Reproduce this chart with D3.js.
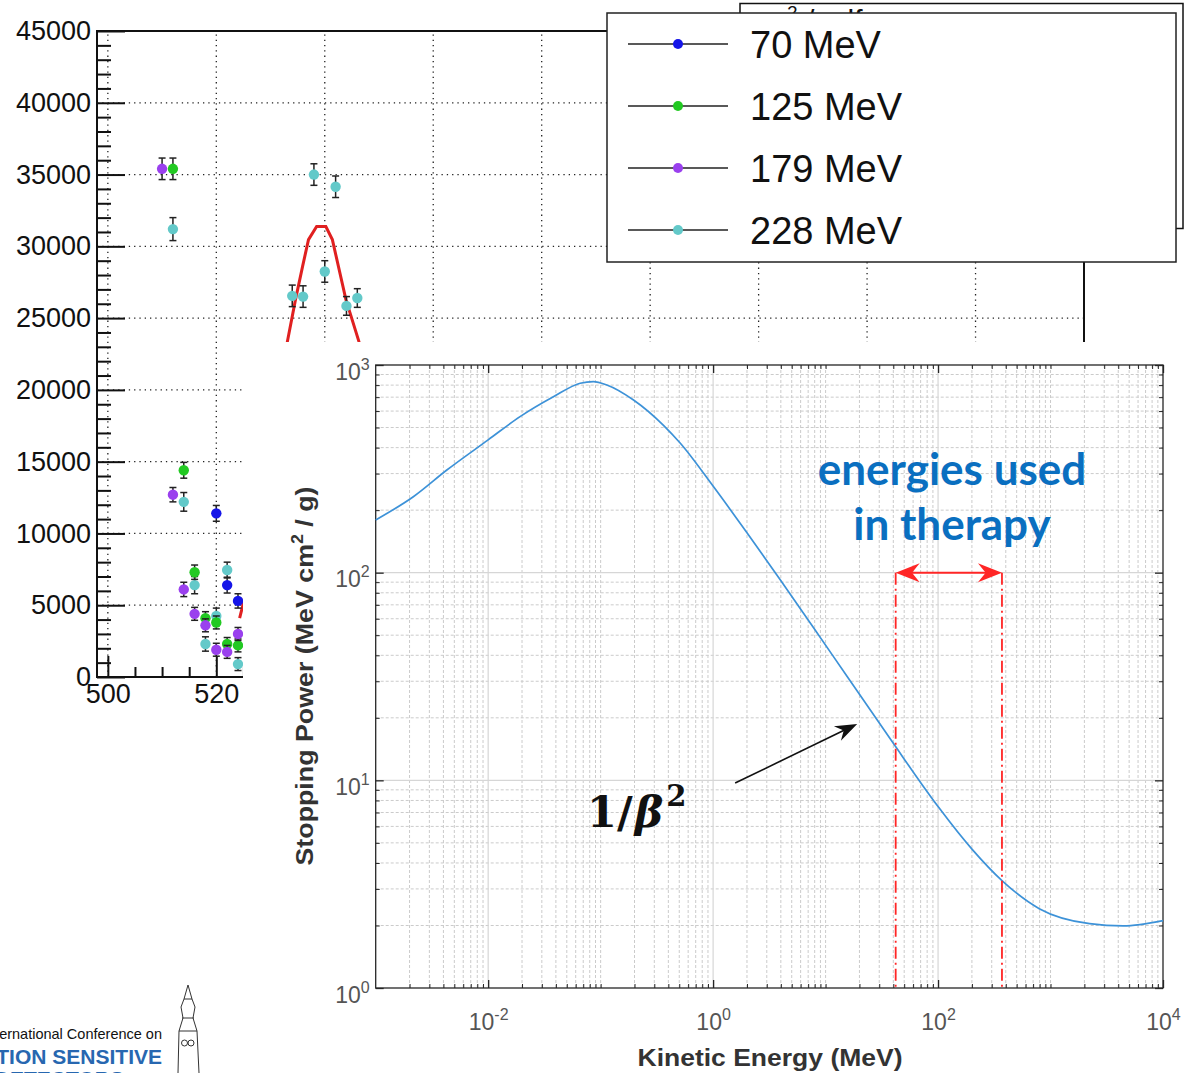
<!DOCTYPE html>
<html>
<head>
<meta charset="utf-8">
<title>stopping power</title>
<script src="https://cdn.jsdelivr.net/npm/d3@7/dist/d3.min.js"></script>
<style>
  body { margin: 0; background: #fff; }
  svg { display: block; }
</style>
</head>
<body>
<svg id="chart" width="1186" height="1073"></svg>
<script>
// ---------- upper plot data: counts per position, one series per beam energy
const beamLabels = ["70 MeV", "125 MeV", "179 MeV", "228 MeV"];
const beamColors = ["#1515e8", "#22c922", "#9a40ee", "#63c9c9"];

const pos70  = [520, 522, 524];
const cnt70  = [11400, 6400, 5300];
const err70  = [550, 550, 500];

const pos125 = [512, 514, 516, 518, 520, 522, 524];
const cnt125 = [35400, 14400, 7300, 4100, 3800, 2300, 2200];
const err125 = [750, 550, 500, 450, 450, 450, 450];

const pos179 = [510, 512, 514, 516, 518, 520, 522, 524];
const cnt179 = [35400, 12700, 6100, 4400, 3600, 1900, 1750, 3000];
const err179 = [750, 500, 500, 450, 450, 450, 450, 450];

const pos228 = [512, 514, 516, 518, 520, 522, 524, 534, 536, 538, 540, 542, 544, 546];
const cnt228 = [31200, 12200, 6400, 2300, 4250, 7450, 900, 26550, 26500, 35000, 28250, 34150, 25850, 26400];
const err228 = [800, 650, 600, 500, 550, 550, 450, 750, 750, 750, 750, 750, 650, 650];

// red fit lines
const fitX = [531, 533.1, 534.6, 535.9, 537.0, 538.5, 540.2, 541.4, 543.9, 546.3, 548.5];
const fitY = [18500, 23360, 26290, 28590, 30470, 31380, 31380, 30470, 26290, 23360, 18500];
const fit70X = [524.3, 524.9, 526.0];
const fit70Y = [4100, 5000, 7000];

const countTicks = [0, 5000, 10000, 15000, 20000, 25000, 30000, 35000, 40000, 45000];
const posTicks = [500, 520, 540, 560, 580, 600, 620, 640, 660, 680];

// ---------- lower plot data: proton stopping power vs kinetic energy
const kineticE  = [0.001, 0.00216, 0.00429, 0.01, 0.0192, 0.038, 0.0658, 0.0863, 0.1135, 0.196, 0.362, 0.509,
                   1.01, 2.0, 3.95, 7.82, 15.5, 41.3, 71.4, 102.8, 201, 372, 794, 2223, 4426, 10000];
const stoppingP = [179.5, 232, 312, 436, 564, 703, 817, 832, 801, 678, 512, 421,
                   259, 155.6, 92.5, 54.3, 31.7, 14.7, 9.61, 7.33, 4.65, 3.28, 2.41, 2.04, 1.99, 2.11];
const therapyRange = [42, 370];
const keTicks = [1e-2, 1e0, 1e2, 1e4];
const keTickExp = ["-2", "0", "2", "4"];
const spTicks = [1e0, 1e1, 1e2, 1e3];
const spTickExp = ["0", "1", "2", "3"];

const svg = d3.select("#chart");
const sans = "'Liberation Sans', Arial, Helvetica, sans-serif";

// ================= upper plot =================
const ux = d3.scaleLinear().domain([498, 680]).range([97, 1084]);
const uy = d3.scaleLinear().domain([0, 45000]).range([677, 31]);
const up = svg.append("g");

// dotted grid
up.append("g").selectAll("line").data(posTicks.slice(0, -1)).join("line")
  .attr("x1", d => ux(d)).attr("x2", d => ux(d))
  .attr("y1", uy(0)).attr("y2", uy(45000))
  .attr("stroke", "#222").attr("stroke-width", 1.3).attr("stroke-dasharray", "1.3,4");
up.append("g").selectAll("line").data(countTicks.slice(1, -1)).join("line")
  .attr("x1", ux(498)).attr("x2", ux(680))
  .attr("y1", d => uy(d)).attr("y2", d => uy(d))
  .attr("stroke", "#222").attr("stroke-width", 1.3).attr("stroke-dasharray", "1.3,4");

// frame
up.append("rect").attr("x", ux(498)).attr("y", uy(45000))
  .attr("width", ux(680) - ux(498)).attr("height", uy(0) - uy(45000))
  .attr("fill", "none").attr("stroke", "#111").attr("stroke-width", 2);

// ticks pointing inwards
const countMinor = d3.range(0, 45001, 1000).filter(v => v % 5000 !== 0);
const posMinor = d3.range(500, 681, 5).filter(v => v % 20 !== 0);
function styleTicks(g, w) {
  g.select(".domain").remove();
  g.selectAll(".tick line").attr("stroke", "#111").attr("stroke-width", w);
}
up.append("g").attr("transform", `translate(${ux(498)},0)`)
  .call(d3.axisRight(uy).tickValues(countTicks).tickSize(28).tickSizeOuter(0).tickFormat(""))
  .call(g => styleTicks(g, 2));
up.append("g").attr("transform", `translate(${ux(498)},0)`)
  .call(d3.axisRight(uy).tickValues(countMinor).tickSize(14).tickSizeOuter(0).tickFormat(""))
  .call(g => styleTicks(g, 2));
up.append("g").attr("transform", `translate(0,${uy(0)})`)
  .call(d3.axisTop(ux).tickValues(posTicks).tickSize(21).tickSizeOuter(0).tickFormat(""))
  .call(g => styleTicks(g, 2));
up.append("g").attr("transform", `translate(0,${uy(0)})`)
  .call(d3.axisTop(ux).tickValues(posMinor).tickSize(10).tickSizeOuter(0).tickFormat(""))
  .call(g => styleTicks(g, 2));

// tick labels
up.append("g").attr("transform", `translate(${ux(498)},0)`)
  .call(d3.axisLeft(uy).tickValues(countTicks).tickSize(0).tickPadding(6).tickFormat(d3.format("d")))
  .call(g => g.select(".domain").remove())
  .call(g => g.selectAll("text").attr("font-family", sans).attr("font-size", 27).attr("fill", "#111"));
up.append("g").attr("transform", `translate(0,${uy(0)})`)
  .call(d3.axisBottom(ux).tickValues(posTicks).tickSize(0).tickPadding(7).tickFormat(d3.format("d")))
  .call(g => g.select(".domain").remove())
  .call(g => g.selectAll("text").attr("font-family", sans).attr("font-size", 27).attr("fill", "#111"));

// fits
const fitLine = d3.line().x(d => ux(d[0])).y(d => uy(d[1]));
up.append("path").datum(d3.zip(fitX, fitY)).attr("d", fitLine)
  .attr("fill", "none").attr("stroke", "#e02020").attr("stroke-width", 3);
up.append("path").datum(d3.zip(fit70X, fit70Y)).attr("d", fitLine)
  .attr("fill", "none").attr("stroke", "#e02020").attr("stroke-width", 3);

// measured points with error bars
const upperSeries = [
  { color: beamColors[3], x: pos228, y: cnt228, e: err228 },
  { color: beamColors[1], x: pos125, y: cnt125, e: err125 },
  { color: beamColors[2], x: pos179, y: cnt179, e: err179 },
  { color: beamColors[0], x: pos70,  y: cnt70,  e: err70 }
];
upperSeries.forEach(s => {
  const pts = s.x.map((x, i) => ({ x, y: s.y[i], e: s.e[i] }));
  const g = up.append("g");
  const eb = g.selectAll("g.eb").data(pts).join("g").attr("class", "eb")
    .attr("stroke", "#222").attr("stroke-width", 1.5);
  eb.append("line").attr("x1", d => ux(d.x)).attr("x2", d => ux(d.x))
    .attr("y1", d => uy(d.y - d.e)).attr("y2", d => uy(d.y + d.e));
  eb.append("line").attr("x1", d => ux(d.x) - 3.5).attr("x2", d => ux(d.x) + 3.5)
    .attr("y1", d => uy(d.y - d.e)).attr("y2", d => uy(d.y - d.e));
  eb.append("line").attr("x1", d => ux(d.x) - 3.5).attr("x2", d => ux(d.x) + 3.5)
    .attr("y1", d => uy(d.y + d.e)).attr("y2", d => uy(d.y + d.e));
  g.selectAll("circle").data(pts).join("circle")
    .attr("cx", d => ux(d.x)).attr("cy", d => uy(d.y)).attr("r", 5.2)
    .attr("fill", s.color);
});

// legend (second box peeking behind it)
const back = svg.append("g");
back.append("rect").attr("x", 740).attr("y", 3.5).attr("width", 443).attr("height", 225)
  .attr("fill", "#fff").attr("stroke", "#111").attr("stroke-width", 1.5);
back.append("text").attr("x", 762).attr("y", 31).attr("font-family", sans).attr("font-size", 30).attr("fill", "#111")
  .call(t => {
    t.append("tspan").text("m");
    t.append("tspan").attr("font-size", 19).attr("dy", -12).text("2");
    t.append("tspan").attr("dy", 12).text(" / g     lf");
  });

const legend = svg.append("g");
legend.append("rect").attr("x", 607).attr("y", 13).attr("width", 569).attr("height", 249)
  .attr("fill", "#fff").attr("stroke", "#222").attr("stroke-width", 1.5);
const legItems = legend.selectAll("g.item").data(beamLabels).join("g").attr("class", "item")
  .attr("transform", (d, i) => `translate(0,${44 + i * 62})`);
legItems.append("line").attr("x1", 628).attr("x2", 728).attr("stroke", "#222").attr("stroke-width", 1.5);
legItems.append("circle").attr("cx", 678).attr("r", 5).attr("fill", (d, i) => beamColors[i]);
legItems.append("text").attr("x", 750).attr("dy", "0.36em").attr("font-family", sans)
  .attr("font-size", 38).attr("fill", "#111").text(d => d);

// ================= lower plot (pasted on top) =================
svg.append("rect").attr("x", 243).attr("y", 342).attr("width", 943).attr("height", 731).attr("fill", "#fff");

const lx = d3.scaleLog().domain([1e-3, 1e4]).range([375.7, 1163]);
const ly = d3.scaleLog().domain([1, 1000]).range([988, 365]);
const low = svg.append("g");

const xMinor = [];
for (let k = -3; k <= 3; k++) for (let m = 1; m <= 9; m++) {
  const v = m * Math.pow(10, k);
  if (v > 1e-3 && !keTicks.some(t => Math.abs(t - v) / t < 1e-9)) xMinor.push(v);
}
const yMinor = [];
for (let k = 0; k <= 2; k++) for (let m = 2; m <= 9; m++) yMinor.push(m * Math.pow(10, k));

// grid
low.append("g").selectAll("line").data(xMinor).join("line")
  .attr("x1", d => lx(d)).attr("x2", d => lx(d)).attr("y1", ly(1)).attr("y2", ly(1000))
  .attr("stroke", "#cbcbcb").attr("stroke-width", 1).attr("stroke-dasharray", "3,2");
low.append("g").selectAll("line").data(yMinor).join("line")
  .attr("x1", lx(1e-3)).attr("x2", lx(1e4)).attr("y1", d => ly(d)).attr("y2", d => ly(d))
  .attr("stroke", "#cbcbcb").attr("stroke-width", 1).attr("stroke-dasharray", "3,2");
low.append("g").selectAll("line").data(keTicks.slice(0, -1)).join("line")
  .attr("x1", d => lx(d)).attr("x2", d => lx(d)).attr("y1", ly(1)).attr("y2", ly(1000))
  .attr("stroke", "#d6d6d6").attr("stroke-width", 1.2);
low.append("g").selectAll("line").data(spTicks.slice(1, -1)).join("line")
  .attr("x1", lx(1e-3)).attr("x2", lx(1e4)).attr("y1", d => ly(d)).attr("y2", d => ly(d))
  .attr("stroke", "#d6d6d6").attr("stroke-width", 1.2);

// ticks on all four sides
function lowTicks(g, w) {
  g.select(".domain").remove();
  g.selectAll(".tick line").attr("stroke", "#262626").attr("stroke-width", w);
}
[[d3.axisTop, ly(1)], [d3.axisBottom, ly(1000)]].forEach(([ax, yy]) => {
  low.append("g").attr("transform", `translate(0,${yy})`)
    .call(ax(lx).tickValues(keTicks).tickSize(8).tickSizeOuter(0).tickFormat("")).call(g => lowTicks(g, 1.3));
  low.append("g").attr("transform", `translate(0,${yy})`)
    .call(ax(lx).tickValues(xMinor).tickSize(4).tickSizeOuter(0).tickFormat("")).call(g => lowTicks(g, 1));
});
[[d3.axisRight, lx(1e-3)], [d3.axisLeft, lx(1e4)]].forEach(([ax, xx]) => {
  low.append("g").attr("transform", `translate(${xx},0)`)
    .call(ax(ly).tickValues(spTicks).tickSize(8).tickSizeOuter(0).tickFormat("")).call(g => lowTicks(g, 1.3));
  low.append("g").attr("transform", `translate(${xx},0)`)
    .call(ax(ly).tickValues(yMinor).tickSize(4).tickSizeOuter(0).tickFormat("")).call(g => lowTicks(g, 1));
});
low.append("rect").attr("x", lx(1e-3)).attr("y", ly(1000))
  .attr("width", lx(1e4) - lx(1e-3)).attr("height", ly(1) - ly(1000))
  .attr("fill", "none").attr("stroke", "#262626").attr("stroke-width", 1.3);

// power-of-ten labels
function powLabel(text, exp) {
  text.text(null).attr("dy", null).attr("font-family", sans).attr("fill", "#555");
  text.append("tspan").attr("font-size", 23).text("10");
  text.append("tspan").attr("font-size", 16).attr("dy", -10).text(exp);
}
low.append("g").attr("transform", `translate(0,${ly(1)})`)
  .call(d3.axisBottom(lx).tickValues(keTicks).tickSize(0).tickFormat(""))
  .call(g => g.select(".domain").remove())
  .call(g => g.selectAll("text").attr("y", 42).each(function (d, i) { powLabel(d3.select(this), keTickExp[i]); }));
low.append("g").attr("transform", `translate(${lx(1e-3)},0)`)
  .call(d3.axisLeft(ly).tickValues(spTicks).tickSize(0).tickPadding(6).tickFormat(""))
  .call(g => g.select(".domain").remove())
  .call(g => g.selectAll("text").attr("y", 14).each(function (d, i) { powLabel(d3.select(this), spTickExp[i]); }));

// axis titles
low.append("text").attr("x", 770).attr("y", 1066).attr("text-anchor", "middle")
  .attr("font-family", sans).attr("font-weight", "bold").attr("font-size", 24).attr("fill", "#333")
  .attr("textLength", 265).attr("lengthAdjust", "spacingAndGlyphs")
  .text("Kinetic Energy (MeV)");
low.append("text").attr("transform", "translate(313,676) rotate(-90)").attr("text-anchor", "middle")
  .attr("font-family", sans).attr("font-weight", "bold").attr("font-size", 24).attr("fill", "#333")
  .attr("textLength", 379).attr("lengthAdjust", "spacingAndGlyphs")
  .call(t => {
    t.append("tspan").text("Stopping Power (MeV cm");
    t.append("tspan").attr("font-size", 16).attr("dy", -10).text("2");
    t.append("tspan").attr("dy", 10).text(" / g)");
  });

// curve
const spLine = d3.line().x(d => lx(d[0])).y(d => ly(d[1])).curve(d3.curveMonotoneX);
low.append("path").datum(d3.zip(kineticE, stoppingP)).attr("d", spLine)
  .attr("fill", "none").attr("stroke", "#3d92d8").attr("stroke-width", 1.7);

// arrowheads
function arrowHead(g, x, y, angle, len, half, color) {
  g.append("path")
    .attr("d", `M0,0 L${-len},${-half} L${-len * 0.68},0 L${-len},${half} Z`)
    .attr("transform", `translate(${x},${y}) rotate(${angle})`)
    .attr("fill", color);
}

// therapy energy window
const red = "#ff2626";
therapyRange.forEach(e => {
  low.append("line").attr("x1", lx(e)).attr("x2", lx(e)).attr("y1", ly(100)).attr("y2", ly(1))
    .attr("stroke", red).attr("stroke-width", 1.8).attr("stroke-dasharray", "12,4,2,4");
});
low.append("line").attr("x1", lx(therapyRange[0]) + 12).attr("x2", lx(therapyRange[1]) - 12)
  .attr("y1", ly(100)).attr("y2", ly(100)).attr("stroke", red).attr("stroke-width", 2);
arrowHead(low, lx(therapyRange[0]), ly(100), 180, 24, 9.5, red);
arrowHead(low, lx(therapyRange[1]), ly(100), 0, 24, 9.5, red);

low.append("text").attr("x", 952).attr("text-anchor", "middle")
  .attr("font-family", "Lato, 'Open Sans', sans-serif").attr("font-weight", "bold").attr("font-size", 44)
  .attr("fill", "#0a6fc0")
  .call(t => {
    t.append("tspan").attr("x", 952).attr("y", 485).text("energies used");
    t.append("tspan").attr("x", 952).attr("y", 540).text("in therapy");
  });

// 1/beta^2 annotation
const betaFrom = [1.57, 9.7], betaTo = [19.1, 18.7];
const bx0 = lx(betaFrom[0]), by0 = ly(betaFrom[1]), bx1 = lx(betaTo[0]), by1 = ly(betaTo[1]);
const bang = Math.atan2(by1 - by0, bx1 - bx0) * 180 / Math.PI;
low.append("line").attr("x1", bx0).attr("y1", by0)
  .attr("x2", bx1 - 14 * Math.cos(bang * Math.PI / 180)).attr("y2", by1 - 14 * Math.sin(bang * Math.PI / 180))
  .attr("stroke", "#111").attr("stroke-width", 1.6);
arrowHead(low, bx1, by1, bang, 22, 8, "#111");

low.append("text").attr("x", 587).attr("y", 827)
  .attr("font-family", "'DejaVu Serif', 'Liberation Serif', serif").attr("font-weight", "bold")
  .attr("font-size", 43).attr("fill", "#111")
  .call(t => {
    t.append("tspan").text("1/");
    t.append("tspan").attr("font-style", "italic").attr("dx", 2).text("β");
    t.append("tspan").attr("font-size", 29).attr("dx", 3).attr("dy", -21).text("2");
  });

// ================= conference logo (bottom left) =================
const logo = svg.append("g");
logo.append("text").attr("x", 162).attr("y", 1039).attr("text-anchor", "end")
  .attr("font-family", sans).attr("font-size", 14.5).attr("fill", "#111")
  .text("International Conference on");
logo.append("text").attr("x", 162).attr("y", 1064).attr("text-anchor", "end")
  .attr("font-family", sans).attr("font-weight", "bold").attr("font-size", 21).attr("fill", "#2767b0")
  .text("POSITION SENSITIVE");
logo.append("text").attr("x", 124).attr("y", 1086).attr("text-anchor", "end")
  .attr("font-family", sans).attr("font-weight", "bold").attr("font-size", 21).attr("fill", "#2767b0")
  .text("DETECTORS");
logo.append("path")
  .attr("d", "M188,985 L184,999 L181,1007 L183,1018 L179,1031 L178,1073 M188,985 L192,999 L195,1007 L193,1018 L197,1031 L199,1073 M184,999 L192,999 M182,1018 L194,1018 M179,1031 L197,1031")
  .attr("fill", "none").attr("stroke", "#333").attr("stroke-width", 1);
logo.append("circle").attr("cx", 184.5).attr("cy", 1043).attr("r", 3).attr("fill", "none").attr("stroke", "#333");
logo.append("circle").attr("cx", 191).attr("cy", 1043).attr("r", 3).attr("fill", "none").attr("stroke", "#333");
</script>
</body>
</html>
